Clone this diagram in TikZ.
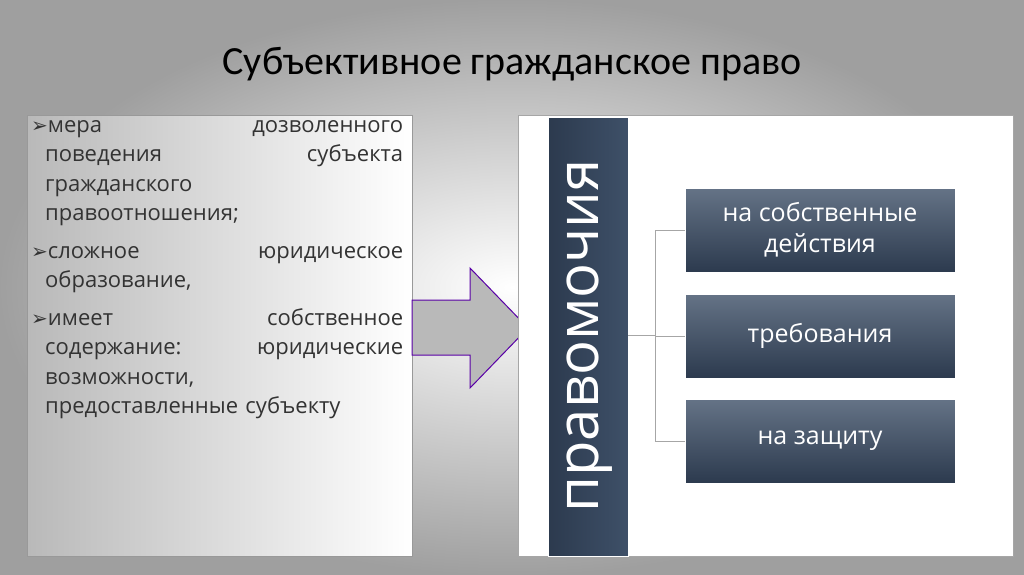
\documentclass[tikz,border=0pt]{standalone}
\usepackage{fontspec}
\setmainfont{Open Sans}
\newfontfamily\titlefont{Carlito}
\newfontfamily\symfont{DejaVu Sans}
\usetikzlibrary{shapes.geometric}
\definecolor{slate}{HTML}{3E5068}
\definecolor{slatedark}{HTML}{2C3A4E}
\tikzset{x=1pt,y=-1pt,
  itembox/.style={draw=white,line width=1pt,top color=slate!80!white,bottom color=slatedark,minimum width=270pt,minimum height=84pt,text=white,font=\fontsize{25}{31}\selectfont,align=center,inner sep=0pt},
  conn/.style={draw=gray!70,line width=0.8pt}}
\newcommand{\bul}{{\symfont\fontsize{20}{20}\selectfont ➢}}
\newcommand{\ind}{\hspace*{14pt}}
\begin{document}
\begin{tikzpicture}
\useasboundingbox (0,0) rectangle (1024,574);
\shade[inner color=white,outer color=gray!75] (0,0) rectangle (1024,574);
\node[font=\titlefont\fontsize{40}{46}\selectfont] (title) at (512,64) {Субъективное гражданское право};
% left box
\shade[left color=gray!55,right color=white,draw=gray!80,line width=0.8pt] (27,115) rectangle (412,556);
\node[anchor=north west,text width=372pt,align=left,inner sep=0pt,font=\fontsize{22}{29.5}\selectfont,text=black!80] (txt) at (31,120) {%
\bul мера\hfill дозволенного\\
\ind поведения\hfill субъекта\\
\ind гражданского\\
\ind правоотношения;\\[8pt]
\bul сложное\hfill юридическое\\
\ind образование,\\[8pt]
\bul имеет\hfill собственное\\
\ind содержание:\hfill юридические\\
\ind возможности,\\
\ind предоставленные субъекту};
% arrow
\draw[fill=gray!55,draw=violet!70!blue,line width=1pt] (412,300) -- (470,300) -- (470,268) -- (528,328) -- (470,388) -- (470,355) -- (412,355) -- cycle;
% right box
\draw[fill=white,draw=gray!70,line width=0.8pt] (518,115) rectangle (1013,556);
\shade[left color=slatedark,right color=slate,draw=white,line width=1pt] (548,117) rectangle (628,556);
\node[rotate=90,text=white,font=\fontsize{58}{64}\selectfont] (bar) at (590,336) {правомочия};
\coordinate (barR) at (628,335);
\coordinate (j) at (655,335);
\node[itembox] (b1) at (820,230) {на собственные\\действия};
\node[itembox] (b2) at (820,336) {требования};
\node[itembox] (b3) at (820,441) {на защиту};
\draw[conn] (barR) -- (j);
\draw[conn] (j) |- (b1.west);
\draw[conn] (j) |- (b2.west);
\draw[conn] (j) |- (b3.west);
\end{tikzpicture}
\end{document}
